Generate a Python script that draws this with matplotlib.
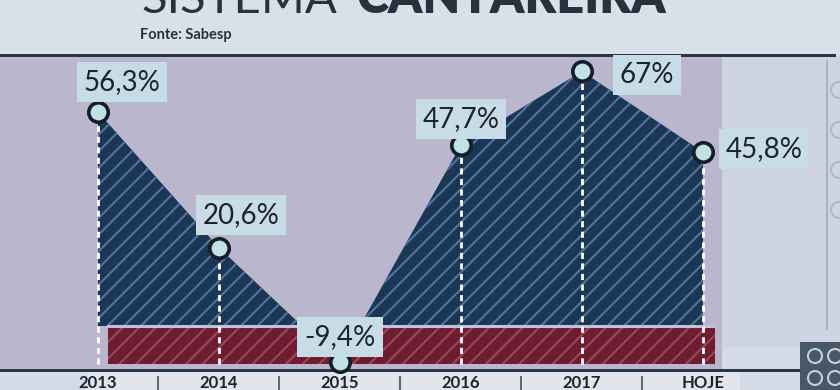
import numpy as np
import matplotlib
matplotlib.use("Agg")
import matplotlib.pyplot as plt
from matplotlib.patches import Rectangle, Ellipse

# data read from the graphic
anos = ['2013', '2014', '2015', '2016', '2017', 'HOJE']
volume = [56.3, 20.6, -9.4, 47.7, 67.0, 45.8]
rotulos = ['56,3%', '20,6%', '-9,4%', '47,7%', '67%', '45,8%']
# label offsets in pixels (dx, dy) relative to each point
offsets = [(24, 30), (22, 33), (0, 25), (0, 26), (65, -4), (61, 3)]

def rgb(r, g, b):
    return (r / 255, g / 255, b / 255)

navy = rgb(27, 55, 85)
vermelho = rgb(112, 28, 48)
escuro = rgb(28, 36, 46)
caixa = rgb(200, 220, 230)
fundo = rgb(186, 182, 206)

plt.rcParams['hatch.linewidth'] = 1.5

W, H = 840, 390
fig = plt.figure(figsize=(W / 100, H / 100), dpi=100)
fig.patch.set_facecolor(rgb(212, 218, 230))

def px(x, y, w, h, **kw):
    # rectangle given in figure pixels, y measured from top
    fig.patches.append(Rectangle((x / W, 1 - (y + h) / H), w / W, h / H,
                                 transform=fig.transFigure, **kw))

def circ(cx, cy, r, **kw):
    fig.patches.append(Ellipse((cx / W, 1 - cy / H), 2 * r / W, 2 * r / H,
                               transform=fig.transFigure, **kw))

# header / panel backgrounds
px(0, 0, 840, 56, fc=rgb(218, 224, 232), ec='none', zorder=-5)
px(0, 57, 722, 315, fc=fundo, ec='none', zorder=-5)
px(722, 57, 118, 290, fc=rgb(206, 211, 226), ec='none', zorder=-5)
px(0, 54, 836, 3, fc=rgb(40, 55, 70), ec='none', zorder=-4)
px(826, 60, 2, 270, fc=rgb(170, 176, 195), ec='none', zorder=-4)
# bottom label strip
px(88, 372, 652, 18, fc=rgb(226, 229, 236), ec='none', zorder=-4)
px(0, 369, 800, 3, fc=rgb(40, 55, 70), ec='none', zorder=-3)
# icon box at bottom right
px(800, 342, 40, 48, fc=rgb(72, 88, 104), ec='none', zorder=-3)
for cy in (356, 378):
    for cx in (815, 835):
        circ(cx, cy, 7, fc='none', ec=rgb(200, 205, 215), lw=1.5, zorder=-2)
for cy in (90, 130, 170, 210):
    circ(839, cy, 8, fc='none', ec=rgb(170, 176, 195), lw=1.2, zorder=-2)

# title
fig.text(141 / W, 1 - 13 / H, 'SISTEMA', fontsize=34, family=['Lato', 'DejaVu Sans'],
         fontweight='normal', color=rgb(40, 50, 62), va='baseline', ha='left')
fig.text(356 / W, 1 - 13 / H, 'CANTAREIRA', fontsize=35, family=['Lato', 'DejaVu Sans'],
         fontweight='heavy', color=rgb(40, 50, 62), va='baseline', ha='left')
fig.text(140 / W, 1 - 35 / H, 'Fonte: Sabesp', fontsize=10.5, family=['Lato', 'DejaVu Sans'],
         fontweight='bold', color=rgb(40, 50, 62), va='center', ha='left')

ax = fig.add_axes([0, 0, 1, 1])
ax.set_zorder(5)
ax.set_facecolor('none')
ax.axis('off')
x = np.arange(len(anos))
ax.set_xlim(-98 / 121, 742 / 121)
ax.set_ylim((326 - 390) / 3.8, 326 / 3.8)

# dark area
ax.fill_between(x, 0, volume, facecolor=navy, edgecolor=rgb(80, 118, 155),
                hatch='//', linewidth=0, zorder=3)
# red band (below zero)
ax.fill_between([x[0] + 0.08, x[-1] + 0.1], -10, 0, facecolor=vermelho,
                edgecolor=rgb(150, 72, 92), hatch='//', linewidth=0, zorder=4)
ax.plot([x[0] + 0.08, x[-1] + 0.1], [0, 0], color=rgb(196, 192, 218), lw=2.2, zorder=5)

# dashed guides
ax.vlines(x, -10, volume, colors='white', linestyles=(0, (2.2, 1.6)), lw=2, zorder=6)

# points
ax.plot(x, volume, 'o', ms=14, mfc=rgb(192, 226, 228), mec=rgb(20, 30, 40),
        mew=2.6, zorder=8)

for xi, v, lab, off in zip(x, volume, rotulos, offsets):
    ax.annotate(lab, (xi, v), xytext=off, textcoords='offset pixels',
                ha='center', va='center', fontsize=20, color=escuro,
                family=['Lato', 'DejaVu Sans'], fontweight='normal', zorder=9,
                bbox=dict(boxstyle='square,pad=0.25', fc=caixa, ec='none'))

# year labels and dividers
for xi, a in zip(x, anos):
    ax.text(xi, (326 - 383) / 3.8, a, ha='center', va='center', fontsize=12,
            fontweight='bold', family=['Lato', 'DejaVu Sans'], color=escuro, zorder=9)
ax.vlines(x[:-1] + 0.5, (326 - 390) / 3.8, (326 - 376) / 3.8, colors=rgb(70, 80, 92),
          lw=1.2, zorder=9)

fig.savefig('out.png', dpi=100)
